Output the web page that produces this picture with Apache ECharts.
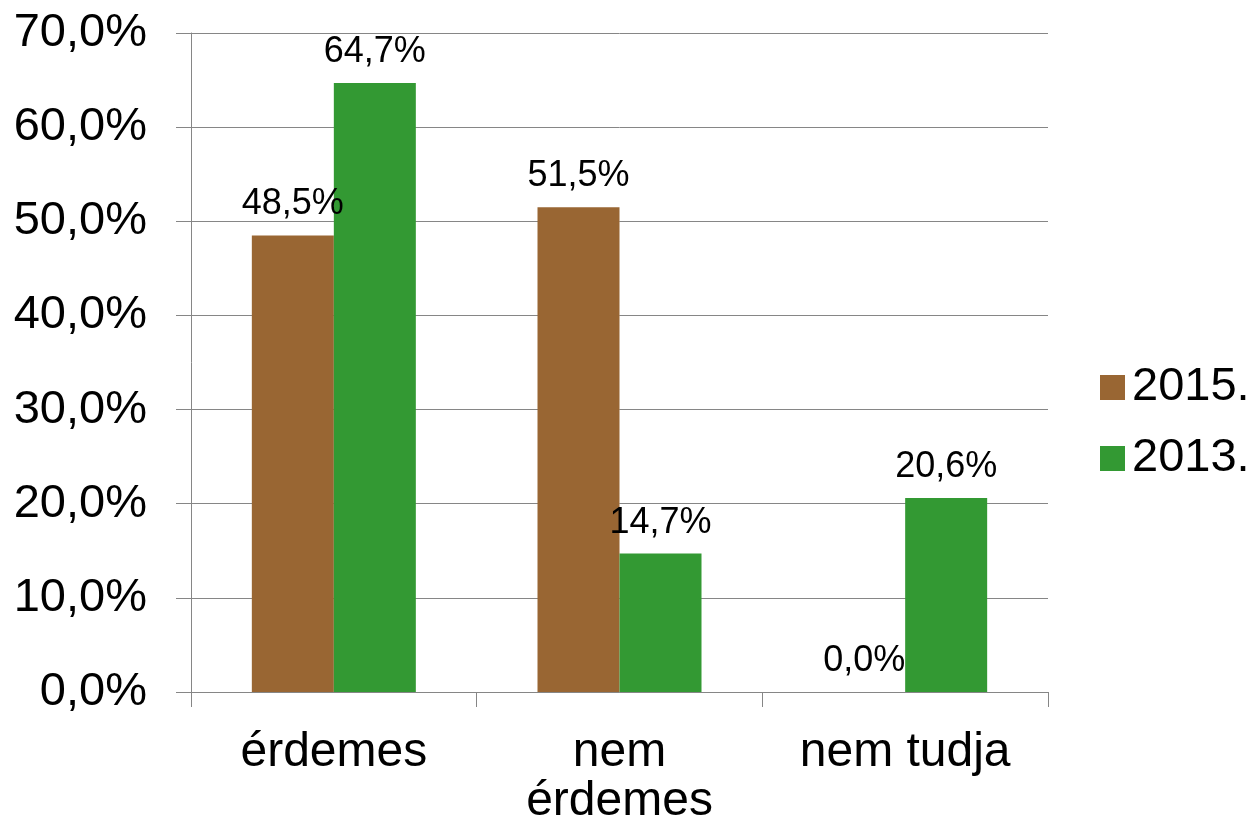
<!DOCTYPE html>
<html><head><meta charset="utf-8">
<script src="https://cdn.jsdelivr.net/npm/echarts@6/dist/echarts.min.js"></script>
<style>html,body{margin:0;padding:0;background:#fff}#c{width:1252px;height:824px}</style>
</head><body><div id="c"></div>
<script>
const categories = ['érdemes', 'nem\nérdemes', 'nem tudja'];
const seriesNames = ['2015.', '2013.'];
const values2015 = [48.5, 51.5, 0.0];
const values2013 = [64.7, 14.7, 20.6];
const colors = ['#996633', '#339933'];
const fmt = v => v.toFixed(1).replace('.', ',') + '%';
const FONT = '"Liberation Sans", Arial, sans-serif';
const chart = echarts.init(document.getElementById('c'));
const labelCfg = {show: true, position: 'top', distance: 13, color: '#000', fontSize: 36, lineHeight: 36, fontFamily: FONT, formatter: p => fmt(p.value)};
chart.setOption({
  animation: false,
  grid: {left: 191, right: 204, top: 33, bottom: 132, outerBoundsMode: 'none', containLabel: false},
  legend: {
    orient: 'vertical', left: 1095, top: 359, itemWidth: 25, itemHeight: 25, itemGap: 24,
    textStyle: {fontSize: 47, fontFamily: FONT, color: '#000', padding: [0, 0, 0, 2]},
    icon: 'rect', data: seriesNames
  },
  xAxis: {
    type: 'category', data: categories,
    axisLine: {lineStyle: {color: '#868686', width: 1}},
    axisTick: {show: true, length: 15, lineStyle: {color: '#868686'}},
    axisLabel: {color: '#000', fontSize: 48, fontFamily: FONT, margin: 36, lineHeight: 49, interval: 0}
  },
  yAxis: {
    type: 'value', min: 0, max: 70, interval: 10,
    axisLine: {show: true, lineStyle: {color: '#868686', width: 1}},
    axisTick: {show: true, length: 15, lineStyle: {color: '#868686'}},
    splitLine: {lineStyle: {color: '#868686', width: 1}},
    axisLabel: {color: '#000', fontSize: 47, fontFamily: FONT, margin: 44, formatter: v => fmt(v)}
  },
  series: [
    {name: seriesNames[0], type: 'bar', data: values2015, barWidth: 82, barGap: '0%', itemStyle: {color: colors[0]}, label: labelCfg},
    {name: seriesNames[1], type: 'bar', data: values2013, barWidth: 82, barGap: '0%', itemStyle: {color: colors[1]}, label: labelCfg}
  ]
});
</script></body></html>
